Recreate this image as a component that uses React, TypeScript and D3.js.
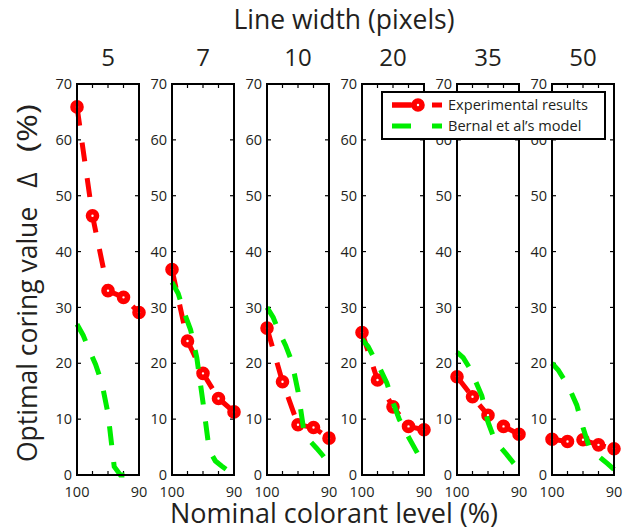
import React from "react";
import * as d3 from "d3";

// Line widths (pixels), one panel each
const lineWidths = ["5", "7", "10", "20", "35", "50"];

// Nominal colorant levels (%) where the experiments were run
const levels = [100, 97.5, 95, 92.5, 90];
// Levels at which the model curve is evaluated
const modelLevels = [100, 99, 98, 97, 96, 95, 94, 93, 92, 91, 90];

// Experimental optimal coring values (%)
const exp5 = [65.9, 46.4, 33.0, 31.8, 29.1];
const exp7 = [36.8, 24.0, 18.2, 13.7, 11.3];
const exp10 = [26.3, 16.7, 9.0, 8.5, 6.6];
const exp20 = [25.5, 17.0, 12.2, 8.7, 8.1];
const exp35 = [17.6, 14.0, 10.7, 8.7, 7.3];
const exp50 = [6.4, 6.0, 6.3, 5.4, 4.7];

// Bernal et al's model predictions (%)
const model5 = [27.0, 25.0, 22.3, 19.8, 16.5, 11.0, 1.5, 0, 0, 0, 0];
const model7 = [34.5, 32.5, 29.0, 26.0, 21.0, 13.0, 4.5, 2.5, 1.6, 0.8, 0];
const model10 = [30.0, 28.2, 25.5, 23.2, 20.3, 15.0, 7.5, 6.0, 4.8, 3.5, 2.0];
const model20 = [24.3, 23.0, 20.8, 18.8, 16.5, 13.0, 10.0, 7.8, 5.8, 3.8, 2.0];
const model35 = [22.0, 21.0, 19.2, 16.8, 14.2, 9.5, 6.5, 5.0, 3.7, 2.3, 1.0];
const model50 = [20.0, 18.8, 17.0, 15.0, 12.5, 8.5, 5.0, 3.8, 2.9, 2.0, 1.0];

const experimental = [exp5, exp7, exp10, exp20, exp35, exp50];
const model = [model5, model7, model10, model20, model35, model50];

const yTicks = [0, 10, 20, 30, 40, 50, 60, 70];
const xTicks = [100, 97.5, 95, 92.5, 90];
const xLabels = [100, 90];

const W = 625;
const H = 530;
const FONT = "'Open Sans', 'DejaVu Sans', sans-serif";
const TEXT = "#231f20";
const RED = "#ff0000";
const GREEN = "#00ee00";
const DASH = "19 17";

const panelLeft0 = 77;
const panelStep = 95;
const panelW = 62;
const top = 84;
const bottom = 475;

const y = d3.scaleLinear().domain([0, 70]).range([bottom, top]);

function Panel({ index }: { index: number }) {
  const left = panelLeft0 + index * panelStep;
  const x = d3.scaleLinear().domain([100, 90]).range([left, left + panelW]);
  const line = d3
    .line<[number, number]>()
    .x((d) => x(d[0]))
    .y((d) => y(d[1]));
  const expPts: [number, number][] = levels.map((l, i) => [l, experimental[index][i]]);
  const modPts: [number, number][] = modelLevels.map((l, i) => [l, model[index][i]]);
  const tick = 4;
  return (
    <g>
      {/* y tick labels */}
      {yTicks.map((t) => (
        <text
          key={"yl" + t}
          x={left - 5}
          y={y(t)}
          dy="0.35em"
          textAnchor="end"
          fontSize={14.5}
          fontFamily={FONT}
          fill={TEXT}
        >
          {t}
        </text>
      ))}
      {/* x tick labels */}
      {xLabels.map((t) => (
        <text
          key={"xl" + t}
          x={x(t)}
          y={bottom + 17}
          dy="0.35em"
          textAnchor="middle"
          fontSize={14.5}
          fontFamily={FONT}
          fill={TEXT}
        >
          {t}
        </text>
      ))}
      {/* ticks */}
      {yTicks.map((t) => (
        <g key={"yt" + t} stroke="#000" strokeWidth={1.2}>
          <line x1={left} x2={left + tick} y1={y(t)} y2={y(t)} />
          <line x1={left + panelW} x2={left + panelW - tick} y1={y(t)} y2={y(t)} />
        </g>
      ))}
      {xTicks.map((t) => (
        <g key={"xt" + t} stroke="#000" strokeWidth={1.2}>
          <line x1={x(t)} x2={x(t)} y1={bottom} y2={bottom - tick} />
          <line x1={x(t)} x2={x(t)} y1={top} y2={top + tick} />
        </g>
      ))}
      {/* experimental results */}
      <path d={line(expPts) || ""} fill="none" stroke={RED} strokeWidth={5} strokeDasharray={DASH} />
      {expPts.map((p, i) => (
        <circle key={"m" + i} cx={x(p[0])} cy={y(p[1])} r={4} fill="#fff" stroke={RED} strokeWidth={5.6} />
      ))}
      {/* model */}
      <path d={line(modPts) || ""} fill="none" stroke={GREEN} strokeWidth={5} strokeDasharray={DASH} />
      {/* frame */}
      <rect x={left} y={top} width={panelW} height={bottom - top} fill="none" stroke="#000" strokeWidth={2} />
      {/* line width header */}
      <text
        x={left + panelW / 2}
        y={58}
        dy="0.35em"
        textAnchor="middle"
        fontSize={24}
        fontFamily={FONT}
        fill={TEXT}
      >
        {lineWidths[index]}
      </text>
    </g>
  );
}

export default function App() {
  const lx = 382;
  const ly = 92;
  return (
    <svg
      width={W}
      height={H}
      style={{ position: "absolute", left: 0, top: 0, background: "#fff" }}
    >
      <rect x={0} y={0} width={W} height={H} fill="#fff" />
      <text x={344} y={20} dy="0.35em" textAnchor="middle" fontSize={26.5} fontFamily={FONT} fill={TEXT}>
        Line width (pixels)
      </text>
      {lineWidths.map((_, i) => (
        <Panel key={i} index={i} />
      ))}
      {/* y axis title: words, symbol and unit */}
      <text
        transform="translate(28,462) rotate(-90)"
        dy="0.35em"
        textAnchor="start"
        fontSize={26.5}
        fontFamily={FONT}
        fill={TEXT}
      >
        Optimal coring value
      </text>
      <text
        transform="translate(28,180) rotate(-90)"
        dy="0.35em"
        textAnchor="middle"
        fontSize={26.5}
        fontFamily={FONT}
        fill={TEXT}
      >
        Δ
      </text>
      <text
        transform="translate(28,128) rotate(-90) scale(1.25,1)"
        dy="0.35em"
        textAnchor="middle"
        fontSize={27}
        fontFamily={FONT}
        fill={TEXT}
      >
        (%)
      </text>
      <text x={334} y={514} dy="0.35em" textAnchor="middle" fontSize={27} fontFamily={FONT} fill={TEXT}>
        Nominal colorant level (%)
      </text>
      {/* legend */}
      <g>
        <rect x={lx} y={ly} width={223} height={47} fill="#fff" stroke="#000" strokeWidth={2} />
        <line x1={lx + 10} x2={lx + 60} y1={ly + 13} y2={ly + 13} stroke={RED} strokeWidth={5} strokeDasharray="19 21" />
        <line x1={lx + 10} x2={lx + 36} y1={ly + 13} y2={ly + 13} stroke={RED} strokeWidth={5} />
        <circle cx={lx + 36} cy={ly + 13} r={4} fill="#fff" stroke={RED} strokeWidth={5.6} />
        <line x1={lx + 10} x2={lx + 60} y1={ly + 34} y2={ly + 34} stroke={GREEN} strokeWidth={5} strokeDasharray="19 21" />
        <text x={lx + 66} y={ly + 13} dy="0.35em" fontSize={14.6} fontFamily={FONT} fill={TEXT}>
          Experimental results
        </text>
        <text x={lx + 66} y={ly + 34} dy="0.35em" fontSize={14.6} fontFamily={FONT} fill={TEXT}>
          Bernal et al’s model
        </text>
      </g>
    </svg>
  );
}
